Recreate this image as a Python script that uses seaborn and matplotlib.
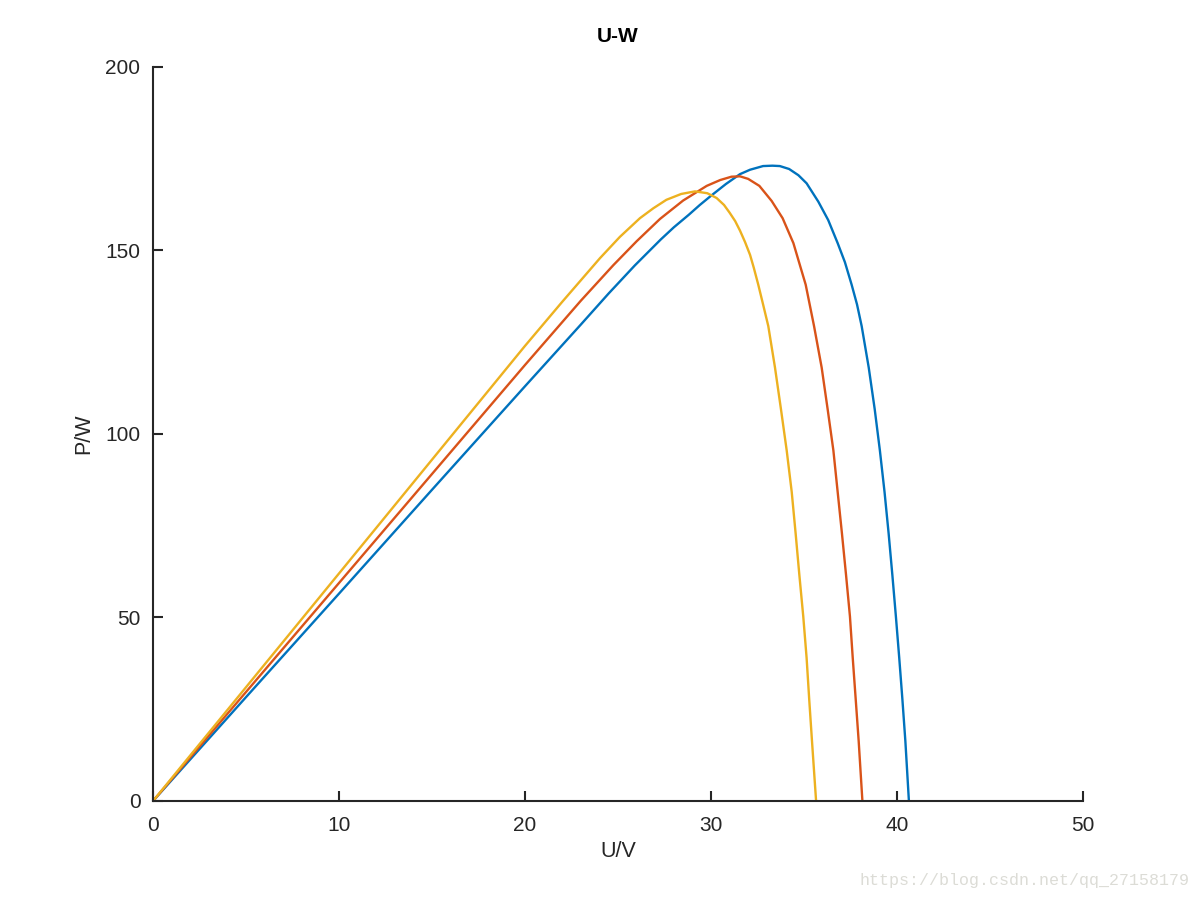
import matplotlib
matplotlib.use("Agg")
import matplotlib.pyplot as plt
import seaborn as sns
import pandas as pd

# ---- data ----
u_blue = [0, 5, 10, 15, 20, 23, 24.5, 25.9, 27.3, 28.0, 28.8, 29.4, 30.0, 30.8, 31.56, 32.1,
          32.8, 33.3, 33.7, 34.2, 34.7, 35.14, 35.77, 36.3, 36.81, 37.2, 37.56, 37.85, 38.10,
          38.48, 38.80, 39.08, 39.33, 39.55, 39.75, 39.94, 40.12, 40.29, 40.45, 40.64]
p_blue = [0, 28.3, 56.5, 84.8, 113.0, 129.8, 138.3, 145.9, 153.0, 156.3, 159.7, 162.4, 164.9,
          168.1, 170.8, 172.0, 173.0, 173.1, 173.0, 172.2, 170.5, 168.3, 163.3, 158.3, 152.0,
          146.8, 140.7, 135.3, 129.4, 118.1, 106.8, 95.5, 84.2, 72.9, 61.6, 50.3, 39.0, 27.7,
          16.3, 0]

u_red = [0, 5, 10, 15, 20, 23, 24.75, 26.0, 27.26, 28.5, 29.77, 30.5, 31.1, 31.56, 32.0, 32.6,
         33.26, 33.85, 34.43, 34.78, 35.09, 35.54, 35.95, 36.27, 36.58, 36.81, 37.04, 37.26,
         37.47, 37.62, 37.78, 37.94, 38.14]
p_red = [0, 29.7, 59.4, 89.1, 118.8, 136.3, 146.0, 152.5, 158.6, 163.6, 167.6, 169.2, 170.1,
         170.2, 169.5, 167.6, 163.5, 158.8, 152.0, 146.0, 140.7, 129.4, 118.1, 106.8, 95.5,
         84.2, 72.9, 61.6, 50.3, 39.0, 27.7, 16.3, 0]

u_yellow = [0, 5, 10, 15, 20, 22, 24.03, 25.1, 26.18, 26.9, 27.6, 28.4, 29.14, 29.8, 30.3,
            30.7, 31.0, 31.3, 31.56, 31.83, 32.1, 32.3, 32.54, 32.8, 33.08, 33.44, 33.76,
            34.07, 34.34, 34.55, 34.75, 34.96, 35.14, 35.28, 35.43, 35.65]
p_yellow = [0, 31.0, 62.0, 93.0, 124.0, 136.0, 147.9, 153.7, 158.8, 161.5, 163.8, 165.4, 166.1,
            165.6, 164.3, 162.4, 160.3, 158.0, 155.4, 152.3, 148.8, 145.3, 140.7, 135.3, 129.4,
            118.1, 106.8, 95.5, 84.2, 72.9, 61.6, 50.3, 39.0, 27.7, 16.3, 0]

x_ticks = [0, 10, 20, 30, 40, 50]
y_ticks = [0, 50, 100, 150, 200]
title = "U-W"
x_label = "U/V"
y_label = "P/W"
watermark = "https://blog.csdn.net/qq_27158179"

frames = []
for name, u, p in [("c1", u_blue, p_blue), ("c2", u_red, p_red), ("c3", u_yellow, p_yellow)]:
    frames.append(pd.DataFrame({"U": u, "P": p, "curve": name}))
df = pd.concat(frames, ignore_index=True)

sns.set_style("white")
plt.rcParams["font.family"] = ["Liberation Sans", "DejaVu Sans"]
text_col = "#262626"

fig = plt.figure(figsize=(12, 9), dpi=100)
ax = fig.add_axes([0.1275, 0.11, 0.775, 0.8156])

sns.lineplot(data=df, x="U", y="P", hue="curve",
             palette=["#0072BD", "#D95319", "#EDB120"], sort=False, estimator=None,
             legend=False, linewidth=1.7, ax=ax)

ax.set_xlim(0, 50)
ax.set_ylim(0, 200)
ax.set_xticks(x_ticks)
ax.set_yticks(y_ticks)
ax.set_xticklabels([str(t) for t in x_ticks])
ax.set_yticklabels([str(t) for t in y_ticks])

for s in ["top", "right"]:
    ax.spines[s].set_visible(False)
for s in ["left", "bottom"]:
    ax.spines[s].set_color(text_col)
    ax.spines[s].set_linewidth(1.5)

ax.tick_params(axis="both", which="major", direction="in", length=7.5, width=1.5,
               color=text_col, labelcolor=text_col, labelsize=15,
               bottom=True, left=True, top=False, right=False)
ax.tick_params(axis="x", pad=11)
ax.tick_params(axis="y", pad=9)

ax.set_xlabel(x_label, fontsize=15.5, color=text_col, labelpad=4)
ax.set_ylabel(y_label, fontsize=15.5, color=text_col, labelpad=8)
ax.set_title(title, fontsize=15, fontweight="bold", color="black", pad=18)

fig.text(0.991, 0.022, watermark, ha="right", va="center", fontsize=12,
         color="#dcdcd6", family=["Liberation Mono", "DejaVu Sans Mono"])

fig.savefig("out.png", dpi=100)
